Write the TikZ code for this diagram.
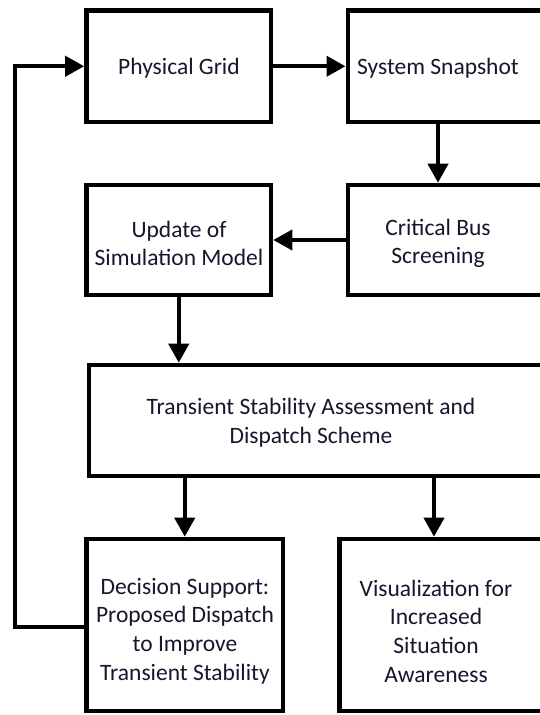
\documentclass[tikz,border=0pt]{standalone}
\usepackage{fontspec}
\setmainfont{Carlito}
\usetikzlibrary{arrows.meta}
\definecolor{txt}{RGB}{22,22,44}
\begin{document}
\begin{tikzpicture}[x=1pt,y=-1pt,
  box/.style={draw=black, line width=4.6pt, rectangle, inner sep=0pt},
  lbl/.style={inner sep=0pt, align=center, text=txt, font=\fontsize{23.5}{28.7}\selectfont},
  conn/.style={line width=4pt, -{Triangle[length=19pt,width=20pt]}},
]
\useasboundingbox (0,0) rectangle (540,715);
\clip (0,0) rectangle (540,715);
% boxes
\node[box, minimum width=184.5pt, minimum height=111.5pt] (grid) at (178.75,66.25) {};
\node[lbl] (gridtxt) at (179,68) {Physical Grid};
\node[box, minimum width=240pt, minimum height=111.5pt, anchor=west] (snap) at (345.5,66.25) {};
\node[lbl] (snaptxt) at (438,68) {System Snapshot};
\node[box, minimum width=240pt, minimum height=110pt, anchor=west] (crit) at (345.5,240) {};
\node[lbl] (crittxt) at (438,243.5) {Critical Bus\\Screening};
\node[box, minimum width=184.5pt, minimum height=110pt] (upd) at (178.75,240) {};
\node[lbl] (updtxt) at (179,243.5) {Update of\\Simulation Model};
\node[box, minimum width=500pt, minimum height=111pt, anchor=west] (trans) at (86.5,420.5) {};
\node[lbl] (transtxt) at (311,422.5) {Transient Stability Assessment and\\Dispatch Scheme};
\node[box, minimum width=196.5pt, minimum height=172pt] (dec) at (184.75,625) {};
\node[lbl] (dectxt) at (185,631) {Decision Support:\\Proposed Dispatch\\to Improve\\Transient Stability};
\node[box, minimum width=250pt, minimum height=172pt, anchor=west] (vis) at (337,625) {};
\node[lbl] (vistxt) at (436,631) {Visualization for\\Increased\\Situation\\Awareness};
\coordinate (fbtop) at (15,66.25);
% connectors
\draw[conn] (grid.east) -- (snap.west);
\draw[conn] (snaptxt |- snap.south) -- (snaptxt |- crit.north);
\draw[conn] (crit.west) -- (upd.east);
\draw[conn] (upd.south) -- (upd.south |- trans.north);
\draw[conn] (dec.north |- trans.south) -- (dec.north);
\draw[conn] ([xshift=-2pt]vistxt |- trans.south) -- ([xshift=-2pt]vistxt |- vis.north);
\draw[conn] ([yshift=-2pt]dec.west) -| (fbtop) -- (grid.west);
\end{tikzpicture}
\end{document}
